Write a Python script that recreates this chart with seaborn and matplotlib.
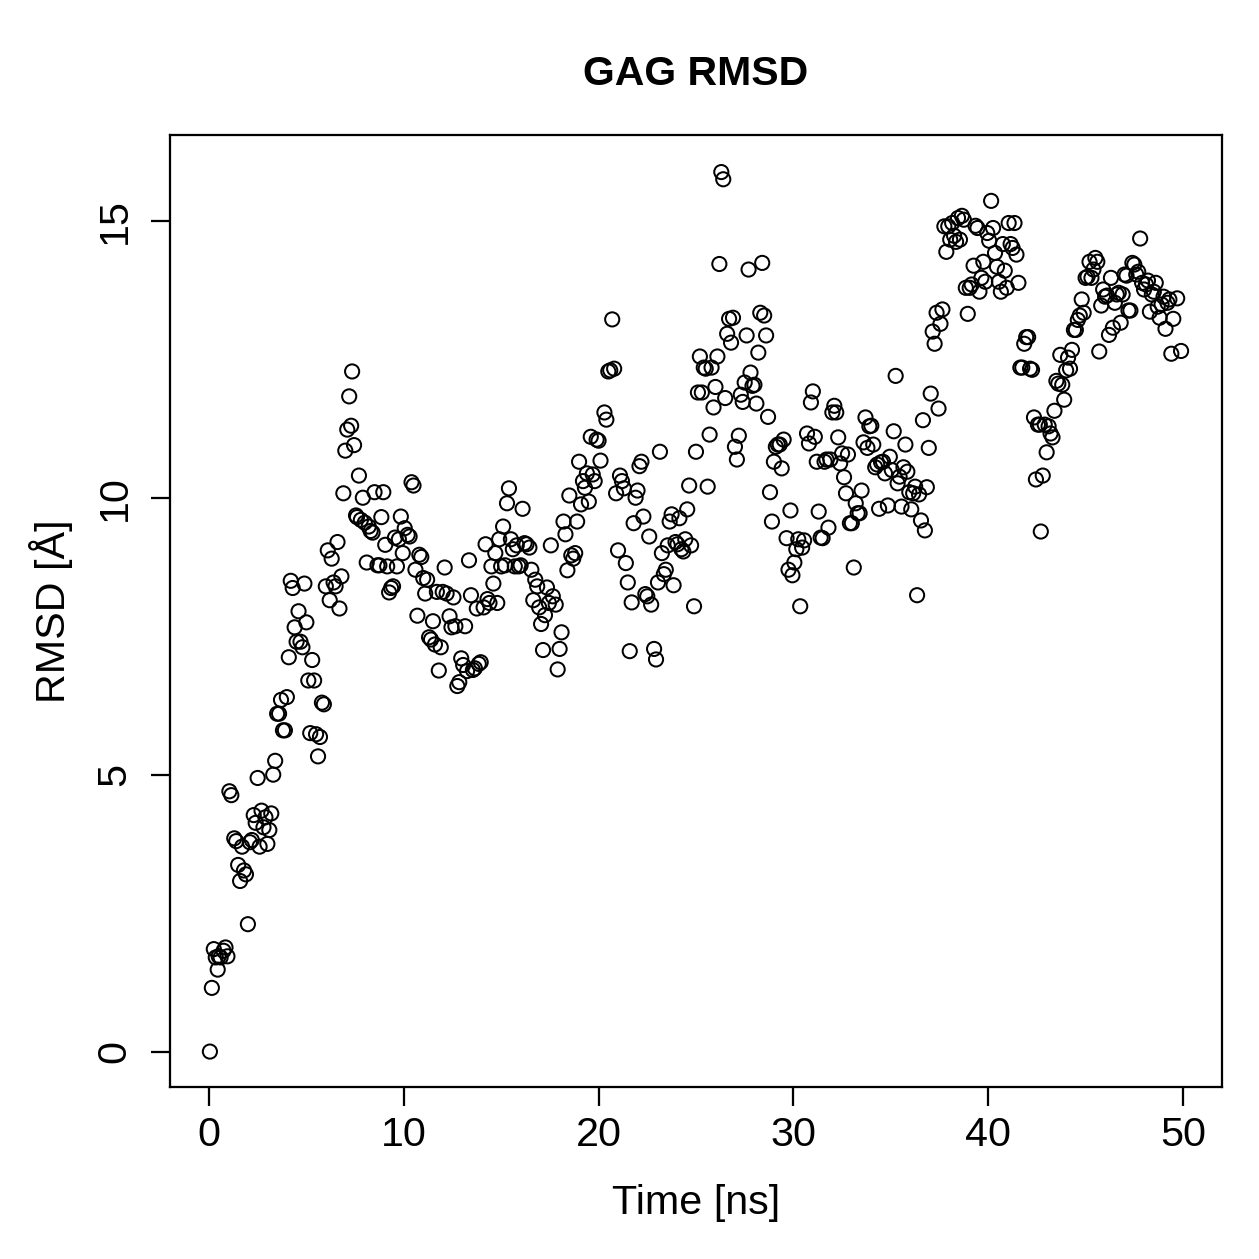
import numpy as np
import pandas as pd
import matplotlib
matplotlib.use("Agg")
import matplotlib.pyplot as plt
import seaborn as sns

# values, time [ns] and RMSD [A] per 5 ns block
t_00 = [0.05, 0.15, 0.25, 0.35, 0.45, 0.5, 0.6, 0.75, 0.85, 0.95, 1.05, 1.15, 1.3, 1.4, 1.5, 1.6, 1.7, 1.8, 1.9, 2.0,
        2.1, 2.2, 2.3, 2.4, 2.5, 2.6, 2.7, 2.8, 2.9, 3.0, 3.1, 3.2, 3.3, 3.4, 3.5, 3.6, 3.7, 3.8, 3.9, 4.0,
        4.1, 4.2, 4.3, 4.4, 4.5, 4.6, 4.7, 4.8, 4.9, 5.0]
r_00 = [0.0, 1.15, 1.85, 1.7, 1.48, 1.72, 1.7, 1.82, 1.88, 1.72, 4.7, 4.63, 3.85, 3.8, 3.37, 3.08, 3.7, 3.27, 3.2, 2.3,
        3.78, 3.82, 4.27, 4.13, 4.94, 3.7, 4.35, 4.05, 4.23, 3.75, 4.0, 4.3, 5.0, 5.25, 6.1, 6.1, 6.35, 5.8, 5.8, 6.4,
        7.12, 8.5, 8.37, 7.66, 7.4, 7.95, 7.4, 7.3, 8.45, 7.75]

t_05 = [5.1, 5.2, 5.3, 5.4, 5.5, 5.6, 5.7, 5.8, 5.9, 6.0, 6.1, 6.2, 6.3, 6.4, 6.5, 6.6, 6.7, 6.8, 6.9, 7.0,
        7.1, 7.2, 7.3, 7.35, 7.45, 7.55, 7.6, 7.7, 7.8, 7.9, 8.0, 8.1, 8.2, 8.3, 8.4, 8.5, 8.65, 8.75, 8.85, 8.95,
        9.05, 9.15, 9.25, 9.35, 9.45, 9.55, 9.65, 9.75, 9.85, 9.95]
r_05 = [6.7, 5.75, 7.07, 6.7, 5.73, 5.33, 5.68, 6.3, 6.27, 8.4, 9.05, 8.15, 8.9, 8.47, 8.4, 9.2, 8.0, 8.58, 10.08, 10.85,
        11.23, 11.83, 11.3, 12.28, 10.95, 9.68, 9.65, 10.4, 9.6, 10.0, 9.55, 8.83, 9.48, 9.4, 9.37, 10.1, 8.78, 8.78, 9.65, 10.1,
        9.15, 8.76, 8.29, 8.37, 8.4, 9.28, 8.76, 9.25, 9.66, 9.0]

t_10 = [10.05, 10.2, 10.3, 10.4, 10.5, 10.6, 10.7, 10.8, 10.9, 11.0, 11.1, 11.2, 11.3, 11.4, 11.5, 11.6, 11.7, 11.8, 11.9, 12.0,
        12.1, 12.2, 12.35, 12.45, 12.55, 12.65, 12.75, 12.85, 12.95, 13.05, 13.15, 13.25, 13.35, 13.45, 13.55, 13.65, 13.75, 13.85, 13.95, 14.1,
        14.2, 14.3, 14.4, 14.5, 14.6, 14.7, 14.8, 14.9]
r_10 = [9.45, 9.33, 9.3, 10.28, 10.22, 8.7, 7.87, 8.97, 8.93, 8.55, 8.27, 8.52, 7.48, 7.44, 7.77, 7.35, 8.3, 6.88, 7.3, 8.3,
        8.74, 8.27, 7.86, 7.66, 8.2, 7.68, 6.6, 6.67, 7.1, 6.98, 7.68, 6.87, 8.87, 8.24, 6.89, 6.92, 8.0, 7.0, 7.03, 8.02,
        9.16, 8.17, 8.1, 8.76, 8.45, 9.0, 8.1, 9.25]

t_15 = [15.0, 15.1, 15.2, 15.3, 15.4, 15.5, 15.6, 15.7, 15.8, 15.9, 16.0, 16.1, 16.2, 16.3, 16.45, 16.55, 16.65, 16.75, 16.85, 16.95,
        17.05, 17.15, 17.25, 17.35, 17.45, 17.55, 17.65, 17.8, 17.9, 18.0, 18.1, 18.2, 18.3, 18.4, 18.5, 18.6, 18.7, 18.8, 18.9, 19.0,
        19.1, 19.2, 19.3, 19.4, 19.5, 19.6, 19.7, 19.8, 19.9]
r_15 = [8.76, 9.48, 8.78, 9.9, 10.17, 9.25, 9.07, 8.76, 9.14, 8.76, 8.78, 9.8, 9.18, 9.16, 9.1, 8.7, 8.15, 8.52, 8.4, 8.02,
        7.72, 7.25, 7.88, 8.38, 8.1, 9.14, 8.22, 8.07, 6.9, 7.27, 7.57, 9.57, 9.34, 8.69, 10.04, 8.96, 8.9, 9.0, 9.57, 10.65,
        9.88, 10.3, 10.18, 10.44, 9.93, 11.1, 10.42, 10.3, 11.05]

t_20 = [20.0, 20.1, 20.3, 20.4, 20.5, 20.6, 20.7, 20.8, 20.9, 21.0, 21.1, 21.2, 21.3, 21.4, 21.5, 21.6, 21.7, 21.8, 21.9, 22.0,
        22.1, 22.2, 22.3, 22.4, 22.5, 22.6, 22.7, 22.85, 22.95, 23.05, 23.15, 23.25, 23.35, 23.45, 23.55, 23.65, 23.75, 23.85, 23.95, 24.05,
        24.15, 24.25, 24.35, 24.45, 24.55, 24.65, 24.75, 24.9, 25.0]
r_20 = [11.03, 10.67, 11.54, 11.41, 12.28, 12.3, 13.22, 12.33, 10.08, 9.05, 10.4, 10.3, 10.17, 8.82, 8.47, 7.23, 8.11, 9.54, 10.0, 10.13,
        10.57, 10.65, 9.66, 8.26, 8.22, 9.3, 8.07, 7.27, 7.08, 8.47, 10.83, 9.0, 8.62, 8.7, 9.14, 9.57, 9.7, 8.42, 9.2, 9.16,
        9.63, 9.07, 9.03, 9.25, 9.79, 10.22, 9.14, 8.04, 10.83]

t_25 = [25.1, 25.2, 25.3, 25.4, 25.5, 25.6, 25.7, 25.8, 25.9, 26.0, 26.1, 26.2, 26.3, 26.4, 26.5, 26.6, 26.7, 26.8, 26.9, 27.0,
        27.1, 27.2, 27.3, 27.4, 27.5, 27.6, 27.7, 27.8, 27.9, 28.0, 28.1, 28.2, 28.3, 28.4, 28.5, 28.6, 28.7, 28.8, 28.9, 29.0,
        29.1, 29.2, 29.3, 29.4, 29.5, 29.65, 29.75, 29.85, 29.95, 30.05, 30.15, 30.25, 30.35]
r_25 = [11.9, 12.55, 11.9, 12.35, 12.33, 10.2, 11.14, 12.35, 11.63, 12.0, 12.55, 14.22, 15.88, 15.75, 11.8, 12.96, 13.23, 12.8, 13.25, 10.92,
        10.69, 11.12, 11.86, 11.73, 12.08, 12.93, 14.12, 12.26, 12.02, 12.04, 11.7, 12.62, 13.34, 14.24, 13.29, 12.93, 11.46, 10.1, 9.57, 10.65,
        10.92, 10.96, 10.96, 10.53, 11.05, 9.27, 8.7, 9.77, 8.6, 8.83, 9.07, 9.25, 8.04]

t_30 = [30.45, 30.55, 30.7, 30.8, 30.9, 31.0, 31.1, 31.2, 31.3, 31.4, 31.5, 31.6, 31.7, 31.8, 31.9, 32.0, 32.1, 32.2, 32.3, 32.4,
        32.5, 32.6, 32.7, 32.8, 32.9, 33.0, 33.1, 33.2, 33.3, 33.4, 33.5, 33.6, 33.7, 33.8, 33.9, 34.0, 34.1, 34.2, 34.3, 34.4,
        34.5, 34.6, 34.7, 34.85, 34.95, 35.05, 35.15, 35.25, 35.35]
r_30 = [9.1, 9.23, 11.16, 10.98, 11.72, 11.92, 11.1, 10.65, 9.75, 9.28, 9.27, 10.65, 10.69, 9.46, 10.69, 11.54, 11.66, 11.54, 11.09, 10.62,
        10.8, 10.37, 10.08, 10.78, 9.54, 9.54, 8.74, 9.9, 9.72, 9.72, 10.13, 11.0, 11.45, 10.9, 11.29, 11.3, 10.96, 10.55, 10.6, 9.8,
        10.64, 10.65, 10.44, 9.86, 10.74, 10.5, 11.2, 12.2, 10.26]

t_35 = [35.45, 35.55, 35.65, 35.75, 35.85, 35.95, 36.05, 36.15, 36.25, 36.35, 36.45, 36.55, 36.65, 36.75, 36.85, 36.95, 37.05, 37.15, 37.25, 37.35,
        37.45, 37.55, 37.65, 37.75, 37.85, 37.95, 38.05, 38.15, 38.25, 38.35, 38.45, 38.55, 38.65, 38.75, 38.85, 38.95, 39.05, 39.15, 39.25, 39.35,
        39.45, 39.55, 39.65, 39.75, 39.85, 39.95, 40.05, 40.15]
r_35 = [10.38, 9.84, 10.55, 10.96, 10.47, 10.1, 9.79, 10.08, 10.2, 8.24, 10.06, 9.59, 11.4, 9.41, 10.19, 10.9, 11.88, 13.0, 12.78, 13.34,
        11.61, 13.14, 13.4, 14.9, 14.44, 14.9, 14.66, 14.96, 14.73, 14.62, 15.05, 14.66, 15.09, 15.02, 13.79, 13.32, 13.79, 13.85, 14.19, 14.91,
        14.87, 13.72, 13.97, 14.26, 13.9, 14.78, 14.64, 15.36]

t_40 = [40.25, 40.35, 40.45, 40.55, 40.65, 40.75, 40.85, 40.95, 41.05, 41.15, 41.25, 41.35, 41.45, 41.55, 41.65, 41.75, 41.85, 41.95, 42.05, 42.15,
        42.25, 42.35, 42.45, 42.55, 42.65, 42.7, 42.8, 42.9, 43.0, 43.1, 43.2, 43.3, 43.4, 43.5, 43.6, 43.7, 43.8, 43.9, 44.0, 44.1,
        44.2, 44.3, 44.4, 44.5, 44.6, 44.7, 44.8, 44.9, 45.0]
r_40 = [14.87, 14.42, 14.17, 13.9, 13.72, 14.58, 14.1, 13.79, 14.96, 14.58, 14.51, 14.96, 14.39, 13.88, 12.35, 12.35, 12.78, 12.9, 12.9, 12.33,
        12.31, 11.45, 10.33, 11.32, 11.32, 9.39, 10.4, 11.32, 10.82, 11.29, 11.16, 11.09, 11.57, 12.11, 12.06, 12.58, 12.04, 11.77, 12.3, 12.53,
        12.33, 12.67, 13.03, 13.03, 13.21, 13.29, 13.58, 13.34, 13.97]

t_45 = [45.1, 45.2, 45.3, 45.4, 45.5, 45.6, 45.7, 45.8, 45.9, 46.0, 46.1, 46.2, 46.3, 46.4, 46.5, 46.6, 46.7, 46.8, 46.9, 47.0,
        47.1, 47.2, 47.3, 47.4, 47.5, 47.6, 47.7, 47.8, 47.9, 48.0, 48.1, 48.2, 48.3, 48.4, 48.5, 48.6, 48.7, 48.8, 48.9, 49.0,
        49.1, 49.2, 49.3, 49.4, 49.5, 49.7, 49.9]
r_45 = [13.99, 14.26, 13.97, 14.12, 14.33, 14.26, 12.64, 13.47, 13.76, 13.63, 13.65, 12.94, 13.97, 13.07, 13.52, 13.67, 13.7, 13.16, 13.67, 14.03,
        14.01, 13.38, 13.38, 14.24, 14.21, 14.03, 14.08, 14.68, 13.88, 13.76, 13.85, 13.92, 13.36, 13.67, 13.72, 13.88, 13.45, 13.25, 13.49, 13.63,
        13.05, 13.52, 13.58, 12.6, 13.23, 13.6, 12.65]

time = t_00 + t_05 + t_10 + t_15 + t_20 + t_25 + t_30 + t_35 + t_40 + t_45
rmsd = r_00 + r_05 + r_10 + r_15 + r_20 + r_25 + r_30 + r_35 + r_40 + r_45
df = pd.DataFrame({"time": time, "rmsd": rmsd})

sns.set_style("white")
plt.rcParams["font.family"] = ["Liberation Sans", "DejaVu Sans"]
plt.rcParams["text.color"] = "black"
plt.rcParams["axes.labelcolor"] = "black"

fig = plt.figure(figsize=(1259 / 180, 1259 / 180), dpi=180)
ax = fig.add_axes([0.135, 0.1366, 0.8356, 0.7562])

sns.scatterplot(data=df, x="time", y="rmsd", ax=ax, marker="o", s=32,
                facecolor="none", edgecolor="black", linewidth=0.8)

# R style axis ranges (4% padding)
ax.set_xlim(-2, 52)
ax.set_ylim(-0.64, 16.55)
ax.set_xticks([0, 10, 20, 30, 40, 50])
ax.set_yticks([0, 5, 10, 15])
ax.tick_params(axis="both", direction="out", length=7.5, width=0.9, labelsize=16.5,
               color="black", labelcolor="black", bottom=True, left=True)
ax.tick_params(axis="x", pad=4)
ax.tick_params(axis="y", pad=7)
for lab in ax.get_yticklabels():
    lab.set_rotation(90)
    lab.set_va("center")
for sp in ax.spines.values():
    sp.set_visible(True)
    sp.set_color("black")
    sp.set_linewidth(0.9)

ax.set_xlabel("Time [ns]", fontsize=16.5, labelpad=12, color="black")
ax.set_ylabel("RMSD [Å]", fontsize=16.5, labelpad=9, color="black")
ax.set_title("GAG RMSD", fontsize=16.4, fontweight="bold", pad=20, color="black")

fig.savefig("out.png", dpi=180)
